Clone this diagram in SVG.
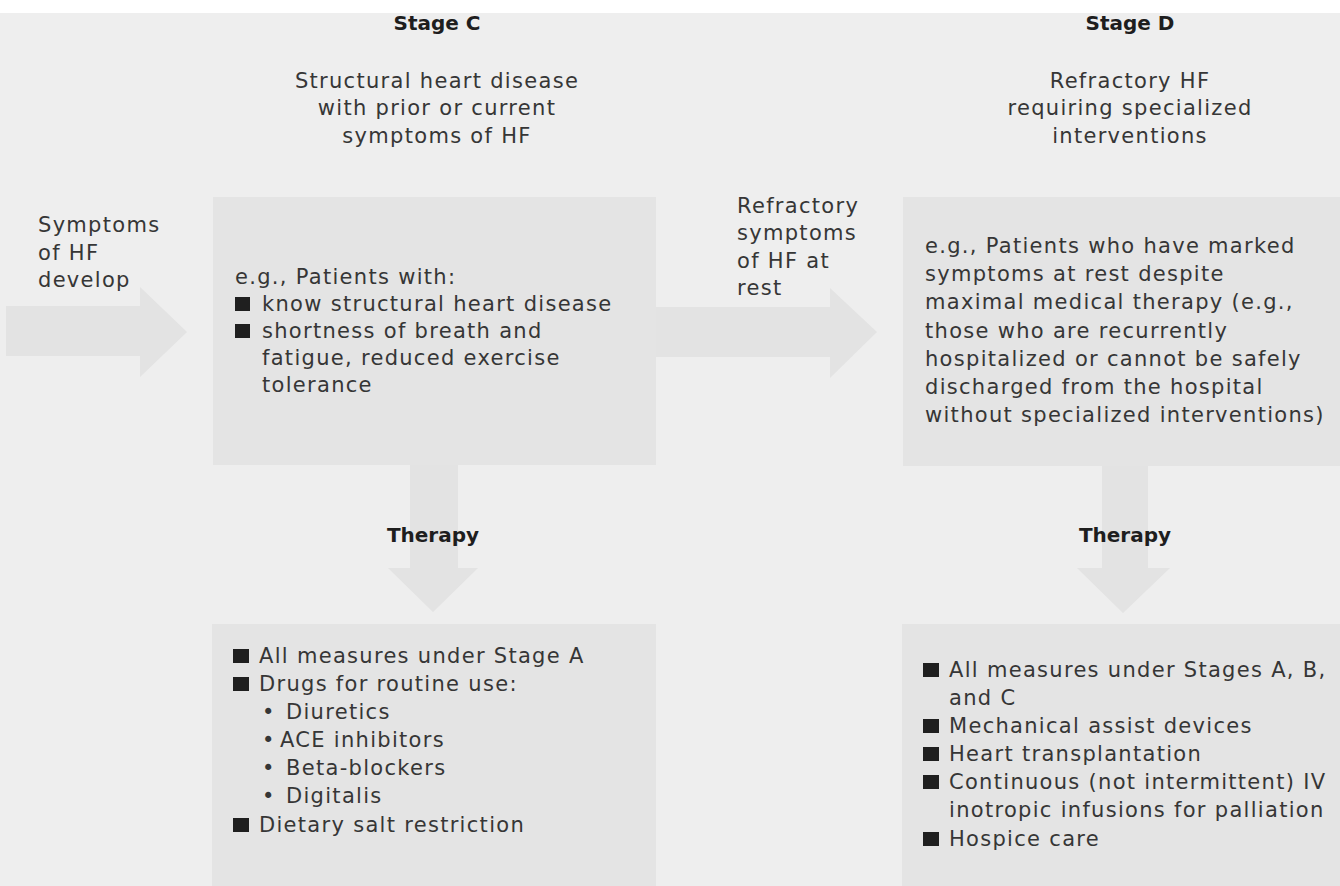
<svg xmlns="http://www.w3.org/2000/svg" width="1340" height="886" viewBox="0 0 1340 886">
<style>
.bg{fill:#eeeeee}
.box{fill:#e4e4e4}
.arr{fill:#e3e3e3}
.t{font-family:"DejaVu Sans",sans-serif;font-size:21px;fill:#363636;letter-spacing:1.3px}
.c{text-anchor:middle}
.h{font-family:"DejaVu Sans",sans-serif;font-size:20px;font-weight:bold;fill:#1e1e1e;text-anchor:middle}
.sq{fill:#1f1f1f}
</style>
<rect x="0" y="0" width="1340" height="886" fill="#ffffff"/>
<rect class="bg" x="0" y="13" width="1340" height="873"/>

<g id="connectors">
<path class="arr" d="M6,306 H140 V287 L187,332 L140,377 V356 H6 Z"/>
<path class="arr" d="M656,307 H830 V288 L877,332 L830,378 V357 H656 Z"/>
<path class="arr" d="M410,465 V568 H388 L433,612 L478,568 H458 V465 Z"/>
<path class="arr" d="M1102,466 V568 H1077 L1123,613 L1170,568 H1148 V466 Z"/>
</g>

<g id="stageC-header">
<text class="h" x="437" y="30">Stage C</text>
<text class="t c" x="437" y="88">Structural heart disease</text>
<text class="t c" x="437" y="115">with prior or current</text>
<text class="t c" x="437" y="143">symptoms of HF</text>
</g>

<g id="stageD-header">
<text class="h" x="1130" y="30">Stage D</text>
<text class="t c" x="1130" y="88">Refractory HF</text>
<text class="t c" x="1130" y="115">requiring specialized</text>
<text class="t c" x="1130" y="143">interventions</text>
</g>

<g id="label-symptoms">
<text class="t" x="38" y="232">Symptoms</text>
<text class="t" x="38" y="260">of HF</text>
<text class="t" x="38" y="287">develop</text>
</g>

<g id="label-refractory">
<text class="t" x="737" y="213">Refractory</text>
<text class="t" x="737" y="240">symptoms</text>
<text class="t" x="737" y="268">of HF at</text>
<text class="t" x="737" y="295">rest</text>
</g>

<g id="boxC">
<rect class="box" x="213" y="197" width="443" height="268"/>
<text class="t" x="235" y="284">e.g., Patients with:</text>
<rect class="sq" x="235" y="297" width="15" height="14"/>
<text class="t" x="262" y="311">know structural heart disease</text>
<rect class="sq" x="235" y="324" width="15" height="14"/>
<text class="t" x="262" y="338">shortness of breath and</text>
<text class="t" x="262" y="365">fatigue, reduced exercise</text>
<text class="t" x="262" y="392">tolerance</text>
</g>

<g id="boxD">
<rect class="box" x="903" y="197" width="437" height="269"/>
<text class="t" x="925" y="253">e.g., Patients who have marked</text>
<text class="t" x="925" y="281">symptoms at rest despite</text>
<text class="t" x="925" y="309">maximal medical therapy (e.g.,</text>
<text class="t" x="925" y="338">those who are recurrently</text>
<text class="t" x="925" y="366">hospitalized or cannot be safely</text>
<text class="t" x="925" y="394">discharged from the hospital</text>
<text class="t" x="925" y="422">without specialized interventions)</text>
</g>

<g id="therapyC-label">
<text class="h" x="433" y="542">Therapy</text>
</g>

<g id="therapyD-label">
<text class="h" x="1125" y="542">Therapy</text>
</g>

<g id="therapyC">
<rect class="box" x="212" y="624" width="444" height="262"/>
<rect class="sq" x="233" y="649" width="16" height="14"/>
<text class="t" x="259" y="663">All measures under Stage A</text>
<rect class="sq" x="233" y="677" width="16" height="14"/>
<text class="t" x="259" y="691">Drugs for routine use:</text>
<text class="t" x="262" y="719">•</text>
<text class="t" x="286" y="719">Diuretics</text>
<text class="t" x="262" y="747">•</text>
<text class="t" x="280" y="747">ACE inhibitors</text>
<text class="t" x="262" y="775">•</text>
<text class="t" x="286" y="775">Beta-blockers</text>
<text class="t" x="262" y="803">•</text>
<text class="t" x="286" y="803">Digitalis</text>
<rect class="sq" x="233" y="818" width="16" height="14"/>
<text class="t" x="259" y="832">Dietary salt restriction</text>
</g>

<g id="therapyD">
<rect class="box" x="902" y="624" width="438" height="262"/>
<rect class="sq" x="923" y="663" width="16" height="14"/>
<text class="t" x="949" y="677">All measures under Stages A, B,</text>
<text class="t" x="949" y="705">and C</text>
<rect class="sq" x="923" y="719" width="16" height="14"/>
<text class="t" x="949" y="733">Mechanical assist devices</text>
<rect class="sq" x="923" y="747" width="16" height="14"/>
<text class="t" x="949" y="761">Heart transplantation</text>
<rect class="sq" x="923" y="775" width="16" height="14"/>
<text class="t" x="949" y="789">Continuous (not intermittent) IV</text>
<text class="t" x="949" y="817">inotropic infusions for palliation</text>
<rect class="sq" x="923" y="832" width="16" height="14"/>
<text class="t" x="949" y="846">Hospice care</text>
</g>
</svg>
